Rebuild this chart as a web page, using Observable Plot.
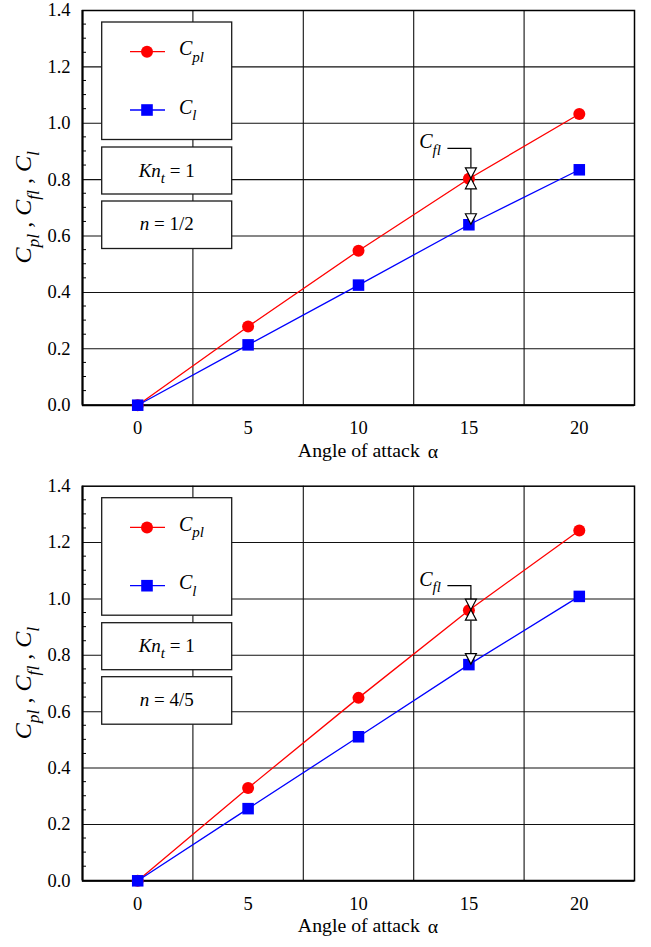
<!DOCTYPE html>
<html><head><meta charset="utf-8">
<script src="https://cdn.jsdelivr.net/npm/d3@7"></script>
<script src="https://cdn.jsdelivr.net/npm/@observablehq/plot@0.6"></script>
<style>
html,body{margin:0;padding:0;background:#fff;}
#chart svg{display:block;}
#chart svg, #chart svg text, #chart svg tspan { font-family: "Liberation Serif", "Times New Roman", "DejaVu Serif", serif !important; }
</style></head><body><div id="chart"></div>
<script>
// ---- data ----
const alpha = [0, 5, 10, 15, 20];
const cplTop = [0, 0.279, 0.548, 0.803, 1.033];
const clTop = [0, 0.214, 0.426, 0.640, 0.835];
const cplBottom = [0, 0.329, 0.649, 0.960, 1.243];
const clBottom = [0, 0.256, 0.511, 0.767, 1.009];
const knLabels = ["1", "1"];
const nLabels = ["1/2", "4/5"];
const cflAngle = 15;
const xDomain = [-2.5, 22.5];
const yDomain = [0, 1.4];
const xTicks = [0, 5, 10, 15, 20];
const yTicks = [0, 0.2, 0.4, 0.6, 0.8, 1.0, 1.2, 1.4];
const xGrid = [2.5, 7.5, 12.5, 17.5];
const yGrid = [0.2, 0.4, 0.6, 0.8, 1.0, 1.2];
const yMinor = [0.05,0.1,0.15,0.25,0.3,0.35,0.45,0.5,0.55,0.65,0.7,0.75,0.85,0.9,0.95,1.05,1.1,1.15,1.25,1.3,1.35];

const FONT = "Liberation Serif";
const RED = "#ff0000", BLUE = "#0000ff";

const panels = [
  {cpl: cplTop, cl: clTop, kn: knLabels[0], n: nLabels[0], height: 475, marginTop: 10, marginBottom: 70.3, elbow: 30},
  {cpl: cplBottom, cl: clBottom, kn: knLabels[1], n: nLabels[1], height: 472, marginTop: 10.7, marginBottom: 66.7, elbow: 24}
];

function decor(p, rows) {
  return (index, scales, values, dim) => {
    const {x, y} = scales;
    const L = dim.marginLeft, T = dim.marginTop;
    const R = dim.width - dim.marginRight, B = dim.height - dim.marginBottom;
    const g = d3.create("svg:g").attr("font-family", FONT).attr("fill", "#000");

    // minor ticks on left axis (inward)
    for (const v of yMinor) {
      g.append("line").attr("x1", L).attr("x2", L + 4).attr("y1", y(v)).attr("y2", y(v))
        .attr("stroke", "#000").attr("stroke-width", 1);
    }

    // C_fl annotation at alpha = 15
    const i = alpha.indexOf(cflAngle);
    const vx = x(cflAngle) + 2.5;
    const yr = y(p.cpl[i]), yb = y(p.cl[i]);
    const ye = yr - p.elbow;
    const tw = 5.5, th = 10.5;
    const a = g.append("g").attr("stroke", "#000").attr("stroke-width", 1.2);
    a.append("path").attr("fill", "none")
      .attr("d", `M${vx - 23.5},${ye}H${vx}V${yr - th}`);
    a.append("path").attr("fill", "none")
      .attr("d", `M${vx},${yr + th}V${yb - th}`);
    a.append("path").attr("fill", "#fff")
      .attr("d", `M${vx - tw},${yr - th}L${vx + tw},${yr - th}L${vx},${yr}Z`);
    a.append("path").attr("fill", "#fff")
      .attr("d", `M${vx - tw},${yr + th}L${vx + tw},${yr + th}L${vx},${yr}Z`);
    a.append("path").attr("fill", "#fff")
      .attr("d", `M${vx - tw},${yb - th}L${vx + tw},${yb - th}L${vx},${yb}Z`);
    const ct = g.append("text").attr("x", vx - 30).attr("y", ye).attr("text-anchor", "end");
    ct.append("tspan").attr("font-style", "italic").attr("font-size", 20).text("C");
    ct.append("tspan").attr("font-style", "italic").attr("font-size", 15).attr("dy", 6.5).text("fl");

    // legend boxes
    const bx = L + 19.7, bw = 130;
    const box = (y0, h) => g.append("rect").attr("x", bx).attr("y", T + y0).attr("width", bw).attr("height", h)
      .attr("fill", "#fff").attr("stroke", "#1a1a1a").attr("stroke-width", 1.3);
    box(12, 117.5);
    box(137, 47);
    box(191, 47.5);

    const item = (yy, color, sym, sub) => {
      g.append("line").attr("x1", L + 48).attr("x2", L + 83).attr("y1", T + yy).attr("y2", T + yy)
        .attr("stroke", color).attr("stroke-width", 1.3);
      if (sym === "circle") g.append("circle").attr("cx", L + 65).attr("cy", T + yy).attr("r", 6).attr("fill", color);
      else g.append("rect").attr("x", L + 65 - 5.8).attr("y", T + yy - 5.8).attr("width", 11.6).attr("height", 11.6).attr("fill", color);
      const t = g.append("text").attr("x", L + 97).attr("y", T + yy + 3.5).attr("text-anchor", "start");
      t.append("tspan").attr("font-style", "italic").attr("font-size", 20).text("C");
      t.append("tspan").attr("font-style", "italic").attr("font-size", 15).attr("dy", 6.5).text(sub);
    };
    item(41.7, RED, "circle", "pl");
    item(100, BLUE, "square", "l");

    const cx = bx + bw / 2;
    const kt = g.append("text").attr("x", cx).attr("y", T + 166.7).attr("text-anchor", "middle").attr("font-size", 19);
    kt.append("tspan").attr("font-style", "italic").text("Kn");
    kt.append("tspan").attr("font-style", "italic").attr("font-size", 15).attr("dy", 6).text("t");
    kt.append("tspan").attr("dy", -6).text(" = " + p.kn);
    const nt = g.append("text").attr("x", cx).attr("y", T + 220).attr("text-anchor", "middle").attr("font-size", 19);
    nt.append("tspan").attr("font-style", "italic").text("n");
    nt.append("tspan").text(" = " + p.n);

    // x axis title
    const xt = g.append("text").attr("x", (L + R) / 2 + 10).attr("y", B + 52).attr("text-anchor", "middle").attr("font-size", 19.8);
    xt.append("tspan").text("Angle of attack");
    xt.append("tspan").attr("dx", 8).attr("dy", 1).text("\u03b1");

    // y axis title
    const yt = g.append("text").attr("transform", `translate(31,${(T + B) / 2}) rotate(-90)`).attr("text-anchor", "middle").attr("font-size", 24);
    yt.append("tspan").attr("font-style", "italic").text("C");
    yt.append("tspan").attr("font-style", "italic").attr("font-size", 17.5).attr("dy", 7.5).text("pl");
    yt.append("tspan").attr("dy", -7.5).text(" , ");
    yt.append("tspan").attr("font-style", "italic").text("C");
    yt.append("tspan").attr("font-style", "italic").attr("font-size", 17.5).attr("dy", 7.5).text("fl");
    yt.append("tspan").attr("dy", -7.5).text(" , ");
    yt.append("tspan").attr("font-style", "italic").text("C");
    yt.append("tspan").attr("font-style", "italic").attr("font-size", 17.5).attr("dy", 7.5).text("l");
    return g.node();
  };
}

const root = document.getElementById("chart");
for (const p of panels) {
  const rows = alpha.map((a, i) => ({alpha: a, cpl: p.cpl[i], cl: p.cl[i]}));
  const chart = Plot.plot({
    width: 651,
    height: p.height,
    marginLeft: 82,
    marginRight: 17,
    marginTop: p.marginTop,
    marginBottom: p.marginBottom,
    style: {fontFamily: FONT, fontSize: "18.5px", background: "#fff", color: "#000"},
    x: {domain: xDomain, label: null},
    y: {domain: yDomain, label: null},
    marks: [
      Plot.ruleX(xGrid, {stroke: "#111", strokeWidth: 1.1}),
      Plot.ruleY(yGrid, {stroke: "#111", strokeWidth: 1.1}),
      Plot.frame({stroke: "#000", strokeWidth: 1.5}),
      Plot.ruleY([yDomain[0]], {stroke: "#000", strokeWidth: 2}),
      Plot.ruleX([xDomain[0]], {stroke: "#000", strokeWidth: 2}),
      Plot.axisY({ticks: yTicks, tickSize: 0, tickPadding: 12, tickFormat: d3.format(".1f"), fontSize: 18.5, label: null}),
      Plot.axisX({ticks: xTicks, tickSize: 0, tickPadding: 16, fontSize: 18.5, label: null}),
      Plot.line(rows, {x: "alpha", y: "cpl", stroke: RED, strokeWidth: 1.3}),
      Plot.line(rows, {x: "alpha", y: "cl", stroke: BLUE, strokeWidth: 1.3}),
      Plot.dot(rows, {x: "alpha", y: "cpl", r: 6, fill: RED, symbol: "circle"}),
      Plot.dot(rows, {x: "alpha", y: "cl", r: 6.5, fill: BLUE, symbol: "square"}),
      decor(p, rows)
    ]
  });
  root.appendChild(chart);
}
</script>
</body></html>
